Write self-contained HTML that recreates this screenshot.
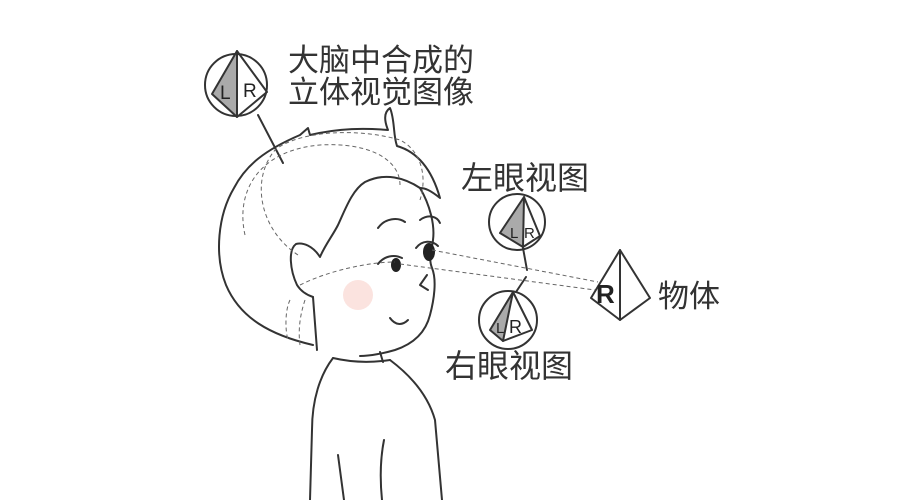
<!DOCTYPE html>
<html><head><meta charset="utf-8"><style>
html,body{margin:0;padding:0;background:#fff;width:900px;height:500px;overflow:hidden}
text{font-family:"Liberation Sans","Noto Sans CJK SC",sans-serif;fill:#333}
</style></head><body>
<svg width="900" height="500" viewBox="0 0 900 500" xmlns="http://www.w3.org/2000/svg">
<g fill="none" stroke="#333" stroke-width="2" stroke-linejoin="round" stroke-linecap="round">
<circle cx="236" cy="85" r="31"/>
<path d="M237 51 L212 94 L237 117 Z" fill="#aaa"/>
<path d="M237 51 L267 92 L237 117"/>
<line x1="258" y1="115" x2="283" y2="163"/>
<path d="M313 345 C270 335 240 318 226 285 C214 255 218 215 234 188 C246 165 265 150 300 135 L308 128 L310 135 C340 128 365 128 388 130 C384 120 384 112 390 108 C395 120 393 135 397 146 C418 152 432 170 440 198 C430 190 425 188 420 188"/>
<path d="M420 188 C405 178 385 172 365 182 C352 190 345 210 338 225 C333 235 325 245 320 257 C313 246 303 242 296 244 C288 250 290 270 297 285 C302 293 310 296 313 297"/>
<path d="M420 188 C430 205 435 225 433 240 C432 250 428 258 432 268 C437 280 434 300 430 315 C425 335 410 345 395 350 C385 353 370 356 360 356"/>
<path d="M313 297 L317 350"/>
<path d="M380 352 L383 362"/>
<path d="M333 358 C350 362 370 363 390 360"/>
<path d="M333 358 C320 375 312 400 312 430 L310 500"/>
<path d="M390 360 C410 375 428 395 435 420 L442 500"/>
<path d="M338 455 L344 500"/>
<path d="M384 440 C380 460 380 480 382 500"/>
<path d="M378 228 C385 218 398 217 405 222"/>
<path d="M420 220 C428 214 437 216 440 223"/>
<path d="M378 264 C384 256 394 254 402 258"/>
<path d="M416 248 C422 240 432 240 438 246"/>
<path d="M427 275 L420 285 L428 290"/>
<path d="M390 318 C395 325 402 326 408 320"/>
<circle cx="517" cy="222" r="28"/>
<path d="M524 197 L500 233 L523 247 Z" fill="#aaa"/>
<path d="M524 197 L540 236 L523 247"/>
<line x1="523" y1="248" x2="527" y2="270"/>
<line x1="526" y1="277" x2="516" y2="292"/>
<circle cx="508" cy="320" r="29"/>
<path d="M513 292 L490 330 L503 341 Z" fill="#aaa"/>
<path d="M513 292 L532 330 L503 341"/>
<path d="M620 250 L591 298 L620 320 L650 298 Z"/>
<line x1="620" y1="250" x2="620" y2="320"/>
</g>
<g fill="#222">
<ellipse cx="396" cy="265" rx="5" ry="7"/>
<ellipse cx="429" cy="252" rx="6" ry="9"/>
</g>
<circle cx="358" cy="295" r="15" fill="#fbe3df"/>
<g fill="none" stroke="#666" stroke-width="1" stroke-dasharray="4 3">
<path d="M298 255 C260 230 250 180 275 150 C300 130 360 128 400 140 C420 150 428 175 420 200"/>
<path d="M245 235 C235 190 260 150 320 145 C370 142 400 160 400 185"/>
<path d="M300 285 C330 270 370 262 395 262"/>
<path d="M290 300 C285 310 285 330 288 340"/>
<path d="M305 300 C300 315 298 330 300 345"/>
<line x1="400" y1="264" x2="595" y2="290"/>
<line x1="432" y1="250" x2="598" y2="282"/>
</g>
<g font-family="Liberation Sans,sans-serif">
<text x="220" y="99" font-size="19" style="fill:#222">L</text><text x="243" y="97" font-size="19" style="fill:#222">R</text>
<text x="510" y="238" font-size="15" style="fill:#222">L</text><text x="524" y="238" font-size="15" style="fill:#222">R</text>
<text x="496" y="333" font-size="15" style="fill:#222">L</text><text x="509" y="333" font-size="18" style="fill:#222">R</text>
<text x="596" y="303" font-size="26" font-weight="bold" style="fill:#222">R</text>
</g>
<g font-size="31">
<text x="288" y="71">大脑中合成的</text>
<text x="288" y="103">立体视觉图像</text>
<text x="461" y="189" font-size="32">左眼视图</text>
<text x="445" y="377" font-size="32">右眼视图</text>
<text x="658" y="307">物体</text>
</g>
</svg>
</body></html>
